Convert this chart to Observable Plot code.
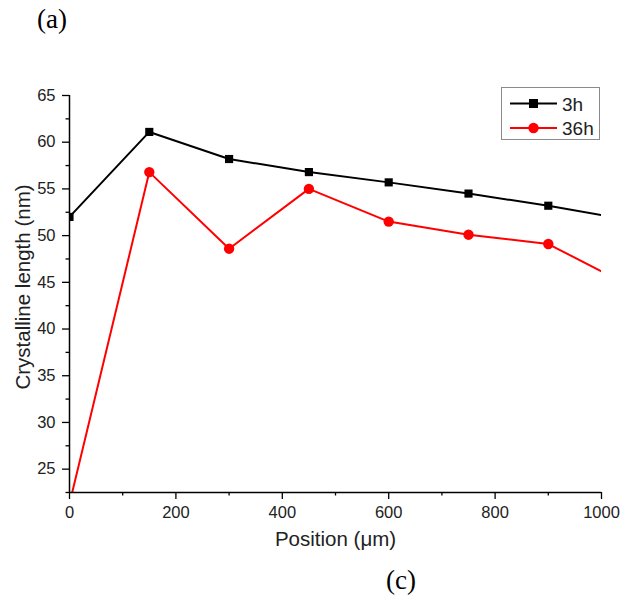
<!DOCTYPE html>
<html>
<head>
<meta charset="utf-8">
<script src="https://cdn.jsdelivr.net/npm/d3@7"></script>
<script src="https://cdn.jsdelivr.net/npm/@observablehq/plot@0.6"></script>
<style>
  body { margin: 0; background: #fff; }
  #wrap { position: relative; width: 630px; height: 601px; }
  .lab { position: absolute; font-family: "Liberation Serif", "Times New Roman", serif; font-size: 27px; color: #000; }
  #legend { position: absolute; left: 501px; top: 87px; width: 99px; height: 53px; border: 1px solid #8a8a8a; background: #fff; box-sizing: border-box; }
</style>
</head>
<body>
<div id="wrap">
  <div class="lab" style="left:37px; top:4px;">(a)</div>
  <div class="lab" style="left:386px; top:565px;">(c)</div>
  <div id="chart" style="position:absolute;left:0;top:0;"></div>
  <div id="legend"></div>
</div>
<script>
const positions = [0, 150, 300, 450, 600, 750, 900, 1050];
const series3h  = [52.0, 61.1, 58.2, 56.8, 55.7, 54.5, 53.2, 51.7];
const series36h = [21.3, 56.8, 48.6, 55.0, 51.5, 50.1, 49.1, 44.7];
const seriesNames = ["3h", "36h"];
const seriesColors = ["#000000", "#ff0000"];
const yTicks = [25, 30, 35, 40, 45, 50, 55, 60, 65];
const xTicks = [0, 200, 400, 600, 800, 1000];

const rows = [];
positions.forEach((p, i) => {
  rows.push({pos: p, val: series3h[i], s: "3h"});
  rows.push({pos: p, val: series36h[i], s: "36h"});
});
const markerRows = rows.filter(d => d.pos <= 1000);
const yMinor = d3.range(22.5, 65.01, 2.5).filter(v => !yTicks.includes(v));
const xMinor = d3.range(100, 1000, 200);

const font = "'Liberation Sans', Arial, sans-serif";
const chart = Plot.plot({
  width: 630,
  height: 601,
  marginLeft: 69,
  marginRight: 29,
  marginTop: 95,
  marginBottom: 109,
  style: {fontFamily: font, fontSize: "16px", color: "#222", background: "transparent"},
  x: {type: "linear", domain: [0, 1000]},
  y: {type: "linear", domain: [22.5, 65]},
  color: {domain: seriesNames, range: seriesColors},
  marks: [
    Plot.line(rows, {x: "pos", y: "val", z: "s", stroke: "s", strokeWidth: 2, clip: true}),
    Plot.dot(markerRows.filter(d => d.s === "3h"), {x: "pos", y: "val", symbol: "square", r: 4.6, fill: "#000", clip: true}),
    Plot.dot(markerRows.filter(d => d.s === "36h"), {x: "pos", y: "val", symbol: "circle", r: 5.2, fill: "#ff0000", clip: true}),
    Plot.ruleX([0], {y1: 22.5, y2: 65, stroke: "#000", strokeWidth: 1.5}),
    Plot.ruleY([22.5], {x1: 0, x2: 1000, stroke: "#000", strokeWidth: 1.5}),
    Plot.axisY(yTicks, {tickSize: 7, stroke: "#000", strokeWidth: 1.3, text: null, label: null}),
    Plot.axisY(yMinor, {tickSize: 3.5, stroke: "#000", strokeWidth: 1.3, text: null, label: null}),
    Plot.axisX(xTicks, {tickSize: 7, stroke: "#000", strokeWidth: 1.3, text: null, label: null}),
    Plot.axisX(xMinor, {tickSize: 3.5, stroke: "#000", strokeWidth: 1.3, text: null, label: null}),
    Plot.text(yTicks, {x: () => 0, y: d => d, text: d => String(d), dx: -14, textAnchor: "end", fontSize: 16.5, fill: "#222"}),
    Plot.text(xTicks, {x: d => d, y: () => 22.5, text: d => String(d), dy: 20, fontSize: 16.5, fill: "#222"}),
    Plot.text(["Position (\u03bcm)"], {frameAnchor: "bottom", dy: 53, fontSize: 20.5, fill: "#222"}),
    Plot.text(["Crystalline length (nm)"], {frameAnchor: "left", textAnchor: "middle", dx: -46, dy: -7, rotate: -90, fontSize: 20.5, fill: "#222"})
  ]
});
document.getElementById("chart").appendChild(chart);

// legend
const lg = d3.select("#legend").append("svg").attr("width", 97).attr("height", 51);
seriesNames.forEach((name, i) => {
  const y = 15.5 + i * 24.5;
  lg.append("line").attr("x1", 8).attr("x2", 55).attr("y1", y).attr("y2", y).attr("stroke", seriesColors[i]).attr("stroke-width", 2);
  if (i === 0) lg.append("rect").attr("x", 27).attr("y", y - 4.5).attr("width", 9).attr("height", 9).attr("fill", seriesColors[i]);
  else lg.append("circle").attr("cx", 31.5).attr("cy", y).attr("r", 5.2).attr("fill", seriesColors[i]);
  lg.append("text").attr("x", 60).attr("y", y + 7).attr("font-family", font).attr("font-size", 19).attr("fill", "#222").text(name);
});
</script>
</body>
</html>
